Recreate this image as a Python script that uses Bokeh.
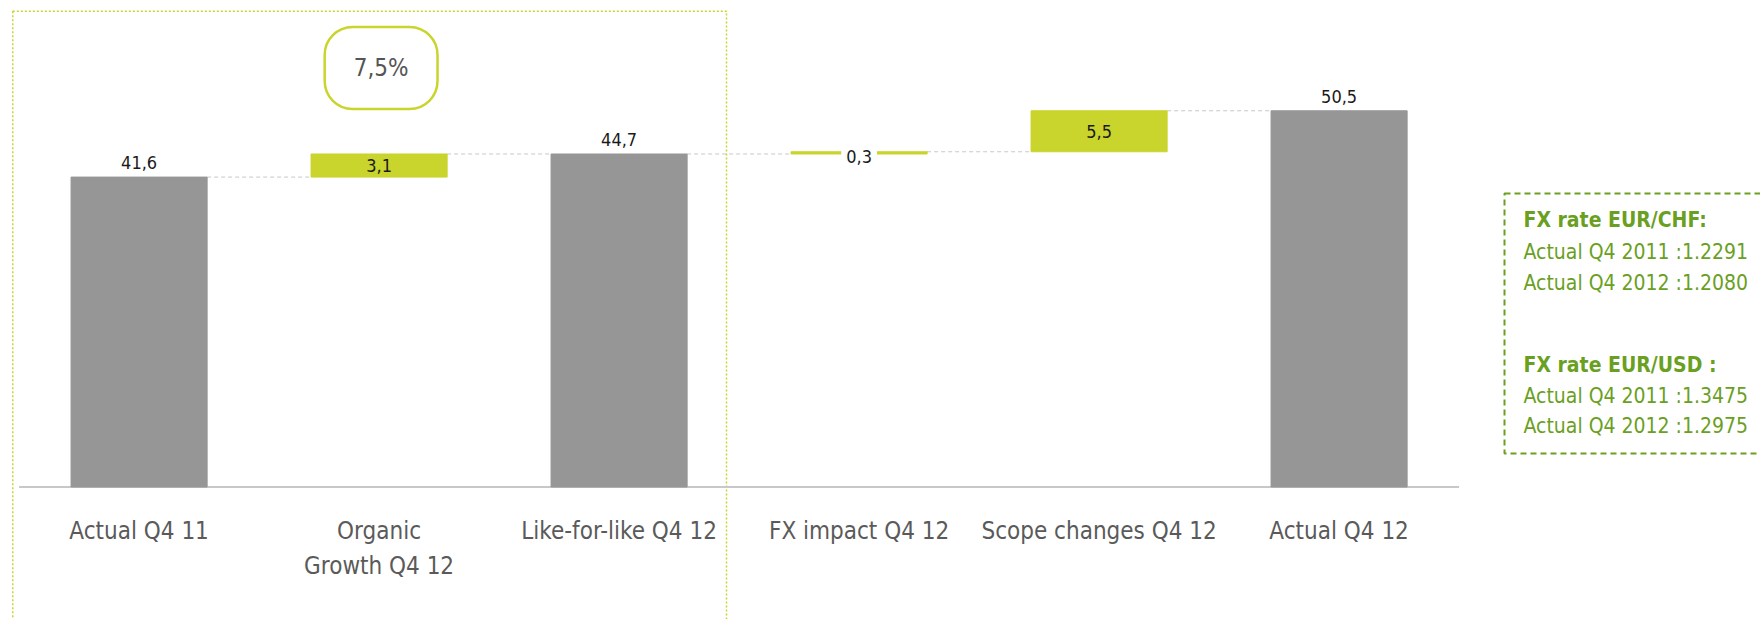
from bokeh.plotting import figure
from bokeh.models import Range1d, ColumnDataSource
from bokeh.core.properties import value
from bokeh.embed import file_html
from bokeh.resources import INLINE

# ---------------- data ----------------
categories = ["Actual Q4 11", "Organic\nGrowth Q4 12", "Like-for-like Q4 12",
              "FX impact Q4 12", "Scope changes Q4 12", "Actual Q4 12"]
values = [41.6, 3.1, 44.7, 0.3, 5.5, 50.5]
kinds = ["total", "delta", "total", "delta", "delta", "total"]
value_labels = ["41,6", "3,1", "44,7", "0,3", "5,5", "50,5"]
organic_growth_label = "7,5%"
fx_lines = ["FX rate EUR/CHF:", "Actual Q4 2011 :1.2291", "Actual Q4 2012 :1.2080",
            "FX rate EUR/USD :", "Actual Q4 2011 :1.3475", "Actual Q4 2012 :1.2975"]
fx_bold = [True, False, False, True, False, False]

# ---------------- layout / style ----------------
W, H = 1760, 619
BASE_PX = 486.5      # baseline position from the top (px)
PPU = 7.45           # pixels per unit
X0_PX = 18.6         # left edge of first category band (px)
BAND_PX = 240.0      # band width (px)
BAR_W = 0.567
FONT = value("DejaVu Sans Condensed, Liberation Sans, sans-serif")
GREY = "#969696"
LIME = "#c9d42c"
FX_GREEN = "#6a9f1f"
ALPHA_FIX = 0.35     # em correction for the rendered alphabetic baseline
VAL_SIZE = 18
FX_SIZE = 21


def px2x(px):
    return (px - X0_PX) / BAND_PX - 0.5


def px2y(py):
    return (BASE_PX - py) / PPU


# waterfall geometry from the values
bottoms, tops = [], []
running = 0.0
for v, k in zip(values, kinds):
    if k == "total":
        b, t = 0.0, v
    else:
        b, t = running, running + v
    running = t
    bottoms.append(b)
    tops.append(t)

idx = list(range(len(categories)))
colors = [GREY if k == "total" else LIME for k in kinds]

p = figure(width=W, height=H,
           x_range=Range1d(px2x(0), px2x(W)),
           y_range=Range1d(px2y(H), px2y(0)),
           output_backend="svg", toolbar_location=None,
           x_axis_location=None, y_axis_location=None,
           min_border=0, outline_line_color=None,
           background_fill_color="white", border_fill_color="white")
p.xgrid.grid_line_color = None
p.ygrid.grid_line_color = None

# dotted highlight frame around the organic part
p.quad(left=[px2x(12.3)], right=[px2x(726)], top=[px2y(10.7)], bottom=[px2y(660)],
       fill_color=None, line_color=LIME, line_dash="2 2", line_width=1.5)

# baseline
p.segment(x0=[-0.5], y0=[0], x1=[len(categories) - 0.5], y1=[0],
          line_color="#c8c8c8", line_width=2)

# connectors
cx0 = [i + BAR_W / 2 for i in idx[:-1]]
cx1 = [i + 1 - BAR_W / 2 for i in idx[:-1]]
cy = tops[:-1]
p.segment(x0=cx0, y0=cy, x1=cx1, y1=cy, line_color="#c8c8c8",
          line_dash="4 3", line_width=1)

# bars
src = ColumnDataSource(dict(x=idx, bottom=bottoms, top=tops, color=colors))
p.vbar(x="x", width=BAR_W, bottom="bottom", top="top", fill_color="color",
       line_color="color", line_width=1, source=src)

# value labels
GAP = (8 + ALPHA_FIX * VAL_SIZE) / PPU
above = dict(x=[], y=[], t=[])
inside = dict(x=[], y=[], t=[])
thin = dict(x=[], y=[], t=[])
for i, (b, t, k, lab) in enumerate(zip(bottoms, tops, kinds, value_labels)):
    if k == "total":
        above["x"].append(i); above["y"].append(t + GAP); above["t"].append(lab)
    elif abs(t - b) < 1.5:
        thin["x"].append(i); thin["y"].append((b + t) / 2 - 4 / PPU); thin["t"].append(lab)
    else:
        inside["x"].append(i); inside["y"].append((b + t) / 2); inside["t"].append(lab)

p.text(x=above["x"], y=above["y"], text=above["t"], text_align="center",
       text_baseline="alphabetic", text_font=FONT,
       text_font_size=f"{VAL_SIZE}px", text_color="#1a1a1a")
p.text(x=inside["x"], y=inside["y"], text=inside["t"], text_align="center",
       text_baseline="middle", text_font=FONT, text_font_size=f"{VAL_SIZE}px",
       text_color="#1a1a1a")
p.text(x=thin["x"], y=thin["y"], text=thin["t"], text_align="center",
       text_baseline="middle", text_font=FONT, text_font_size=f"{VAL_SIZE}px",
       text_color="#1a1a1a", background_fill_color="white", padding=(5, 0))

# organic growth badge
p.text(x=[1], y=[px2y(67.5)], text=[organic_growth_label], x_offset=2,
       text_align="center", text_baseline="middle", text_font=FONT,
       text_font_size="24px", text_color="#555555",
       border_line_color=LIME, border_line_width=2.5, border_radius=28,
       padding=(29, 27))

# category labels
p.text(x=idx, y=[px2y(516)] * len(idx), text=categories, text_align="center",
       text_baseline="top", text_font=FONT, text_font_size="24px",
       text_color="#5a5a5a", text_line_height=1.25)

# FX side note
p.quad(left=[px2x(1504)], right=[px2x(1800)], top=[px2y(193)], bottom=[px2y(453)],
       fill_color=None, line_color=FX_GREEN, line_dash="6 4", line_width=2)
fx_baselines = [226.7, 259.3, 290.0, 372.3, 402.7, 433.3]
for line, bold, by in zip(fx_lines, fx_bold, fx_baselines):
    p.text(x=[px2x(1523)], y=[px2y(by - ALPHA_FIX * FX_SIZE)], text=[line],
           text_align="left", text_baseline="alphabetic", text_font=FONT,
           text_font_size=f"{FX_SIZE}px",
           text_font_style="bold" if bold else "normal", text_color=FX_GREEN)

open("out.html", "w").write(file_html(p, INLINE))
